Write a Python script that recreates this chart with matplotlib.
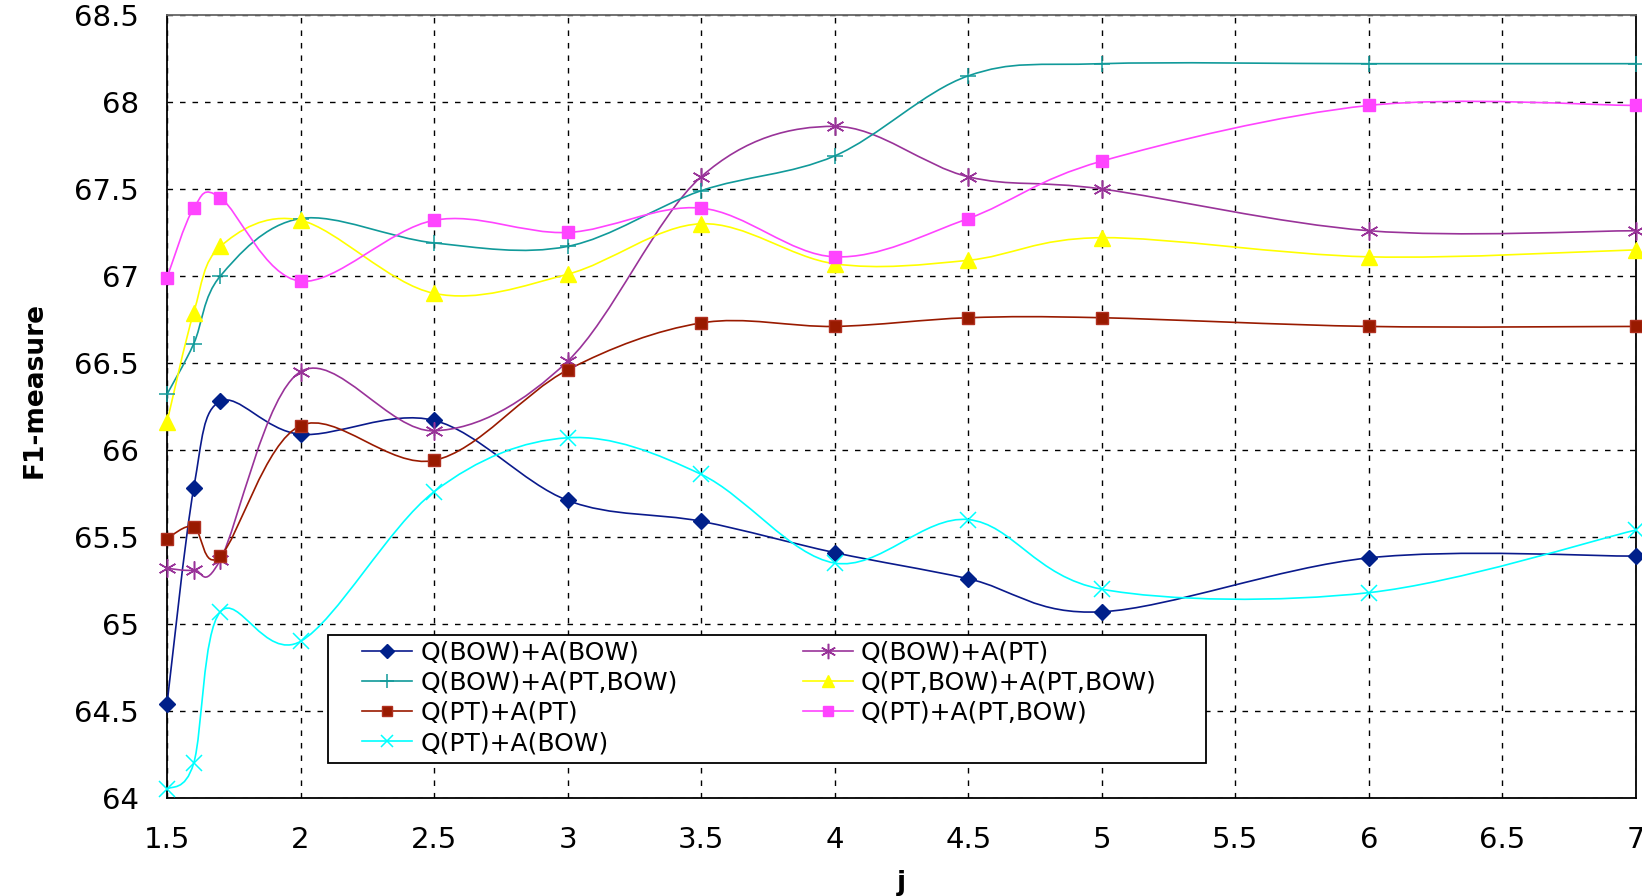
import matplotlib
matplotlib.use("Agg")
import matplotlib.pyplot as plt
from matplotlib.path import Path
from matplotlib.patches import PathPatch, Rectangle
from matplotlib.lines import Line2D
import numpy as np

x = [1.5, 1.6, 1.7, 2, 2.5, 3, 3.5, 4, 4.5, 5, 6, 7]

bow_bow = [64.54, 65.78, 66.28, 66.09, 66.17, 65.71, 65.59, 65.41, 65.26, 65.07, 65.38, 65.39]
bow_pt = [65.32, 65.31, 65.37, 66.45, 66.11, 66.51, 67.57, 67.86, 67.57, 67.50, 67.26, 67.26]
bow_ptbow = [66.32, 66.61, 67.00, 67.33, 67.19, 67.17, 67.49, 67.69, 68.15, 68.22, 68.22, 68.22]
ptbow_ptbow = [66.16, 66.79, 67.17, 67.32, 66.90, 67.01, 67.30, 67.07, 67.09, 67.22, 67.11, 67.15]
pt_pt = [65.49, 65.56, 65.39, 66.14, 65.94, 66.46, 66.73, 66.71, 66.76, 66.76, 66.71, 66.71]
pt_ptbow = [66.99, 67.39, 67.45, 66.97, 67.32, 67.25, 67.39, 67.11, 67.33, 67.66, 67.98, 67.98]
pt_bow = [64.05, 64.20, 65.07, 64.90, 65.76, 66.07, 65.86, 65.35, 65.60, 65.20, 65.18, 65.54]

labels = ["Q(BOW)+A(BOW)", "Q(BOW)+A(PT)", "Q(BOW)+A(PT,BOW)", "Q(PT,BOW)+A(PT,BOW)",
          "Q(PT)+A(PT)", "Q(PT)+A(PT,BOW)", "Q(PT)+A(BOW)"]
series = [bow_bow, bow_pt, bow_ptbow, ptbow_ptbow, pt_pt, pt_ptbow, pt_bow]

styles = [
    dict(color="#0a1a8c", marker="D", ms=8, mfc="#00208a", mec="#00208a", mew=1),
    dict(color="#993399", marker=(6, 2, 0), ms=13, mfc="#993399", mec="#993399", mew=1.1),
    dict(color="#119a9a", marker="+", ms=12, mfc="#119a9a", mec="#119a9a", mew=1.1),
    dict(color="#ffff00", marker="^", ms=11, mfc="#ffff00", mec="#ffff00", mew=1),
    dict(color="#991a00", marker="s", ms=9, mfc="#991a00", mec="#b03020", mew=1),
    dict(color="#ff44ff", marker="s", ms=9, mfc="#ff44ff", mec="#ff44ff", mew=1),
    dict(color="#00ffff", marker="x", ms=11, mfc="#00ffff", mec="#00ffff", mew=1.1),
]

fig = plt.figure(figsize=(16.42, 8.96), dpi=100)
ax = fig.add_axes([0.1017, 0.1094, 0.8946, 0.8739])


def smooth_path(xs, ys):
    pts = np.column_stack([xs, ys]).astype(float)
    n = len(pts)
    verts = [pts[0]]
    codes = [Path.MOVETO]
    for i in range(n - 1):
        p_prev = pts[i - 1] if i > 0 else pts[i]
        p0 = pts[i]
        p1 = pts[i + 1]
        p_next = pts[i + 2] if i + 2 < n else pts[i + 1]
        c1 = p0 + (p1 - p_prev) / 6.0
        c2 = p1 - (p_next - p0) / 6.0
        verts += [c1, c2, p1]
        codes += [Path.CURVE4] * 3
    return Path(verts, codes)


handles = []
for ys, st, lab in zip(series, styles, labels):
    patch = PathPatch(smooth_path(x, ys), fill=False, edgecolor=st["color"], lw=1.2,
                      transform=ax.transData, zorder=3)
    ax.add_patch(patch)
    ax.plot(x, ys, linestyle="none", marker=st["marker"], ms=st["ms"], mfc=st["mfc"],
            mec=st["mec"], mew=st["mew"], zorder=4, clip_on=False)
    handles.append(Line2D([], [], color=st["color"], lw=1.2, marker=st["marker"],
                          ms=st["ms"] * 0.85, mfc=st["mfc"], mec=st["mec"], mew=st["mew"],
                          label=lab))

ax.set_xlim(1.5, 7)
ax.set_ylim(64, 68.5)
ax.set_xticks(np.arange(1.5, 7.01, 0.5))
ax.set_yticks(np.arange(64, 68.51, 0.5))
ax.set_xticklabels([f"{v:g}" for v in np.arange(1.5, 7.01, 0.5)])
ax.set_yticklabels([f"{v:g}" for v in np.arange(64, 68.51, 0.5)])
ax.tick_params(axis="both", length=0, pad=20, labelsize=21)
ax.grid(True, color="black", linestyle=(0, (4, 5)), linewidth=1.0, zorder=1)
ax.set_axisbelow(True)
for s in ax.spines.values():
    s.set_color("black")
    s.set_linewidth(1.3)
ax.spines["top"].set_color("#666666")

ax.set_ylabel("F1-measure", fontsize=19, fontweight="bold")
ax.yaxis.set_label_coords(-0.081, 0.521)
ax.set_xlabel("j", fontsize=19, fontweight="bold", labelpad=12)

# legend frame
frame = Rectangle((0.1095, 0.045), 0.598, 0.163, transform=ax.transAxes,
                  facecolor="white", edgecolor="black", lw=1.3, zorder=5)
ax.add_patch(frame)

order = [0, 2, 4, 6, 1, 3, 5]
leg = ax.legend([handles[i] for i in order], [labels[i] for i in order], ncol=2,
                loc="center left", bbox_to_anchor=(0.1327, 0.128),
                fontsize=18, frameon=False, handlelength=2.0, handletextpad=0.33,
                labelspacing=0.25, borderpad=0, borderaxespad=0, columnspacing=5.0)
leg.set_zorder(6)

fig.savefig("out.png", dpi=100)
